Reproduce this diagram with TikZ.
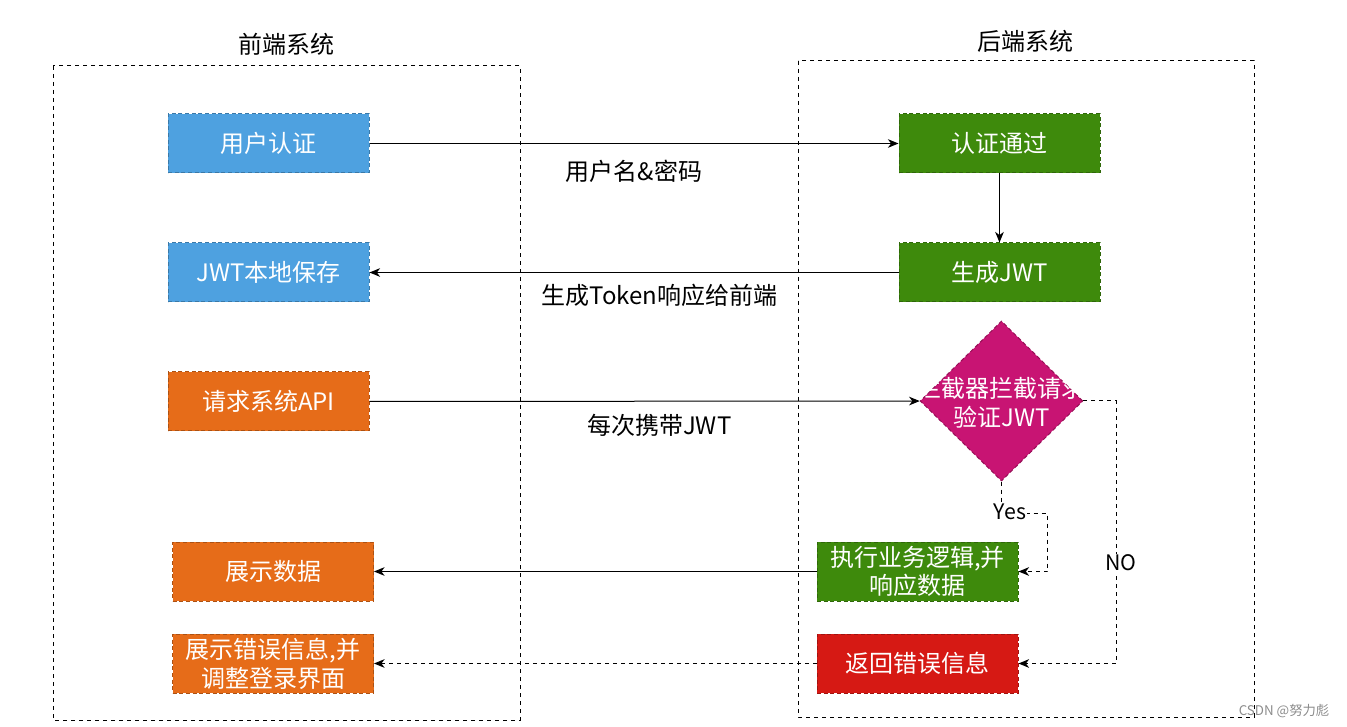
\documentclass[tikz,border=0pt]{standalone}
\usepackage{fontspec}
\setmainfont{Noto Sans CJK SC}
\usetikzlibrary{arrows.meta,shapes.geometric}
\definecolor{Blue}{RGB}{78,161,224}
\definecolor{Orange}{RGB}{230,108,25}
\definecolor{Green}{RGB}{62,138,12}
\definecolor{Red}{RGB}{214,25,20}
\definecolor{Magenta}{RGB}{200,20,115}

\begin{document}
\begin{tikzpicture}[x=0.75pt,y=-0.75pt,line width=0.75pt,
 b/.style={draw=#1!75!black,dash pattern=on 3pt off 2pt,fill=#1,text=white,minimum width=150.75pt,minimum height=44.25pt,inner sep=1pt,align=center,font=\fontsize{18}{21.5}\selectfont},
 d/.style={diamond,draw=Magenta!75!black,dash pattern=on 3pt off 2pt,fill=Magenta,minimum width=122pt,minimum height=120pt,inner sep=0pt},
 t/.style={font=\fontsize{18}{21.5}\selectfont},
 a/.style={-{Stealth[length=8pt,width=6.5pt,inset=2.5pt]}},
 dsh/.style={dash pattern=on 3pt off 3pt}]
\useasboundingbox (0,0) rectangle (1347,727);
% frames
\draw[dsh] (53,66) rectangle (520,720);
\draw[dsh] (798,61) rectangle (1254,717);
\node[t] (front) at (286,44) {前端系统};
\node[t] (backend) at (1025,41) {后端系统};
% front end
\node[b=Blue] (auth) at (268.5,143.5) {用户认证};
\node[b=Blue] (save) at (268.5,272.5) {JWT本地保存};
\node[b=Orange] (req) at (268.5,401.5) {请求系统API};
\node[b=Orange] (show) at (273,571.5) {展示数据};
\node[b=Orange] (fail) at (273,663.5) {展示错误信息,并\\调整登录界面};
% back end
\node[b=Green] (pass) at (999.5,143.5) {认证通过};
\node[b=Green] (gen) at (999.5,272.5) {生成JWT};
\node[d] (check) at (1001.5,401) {};
\node[t,text=white,align=center] (checktxt) at (1001.5,403) {拦截器拦截请求\\验证JWT};
\node[b=Green] (exec) at (917.5,571.5) {执行业务逻辑,并\\响应数据};
\node[b=Red] (back) at (917.5,663.5) {返回错误信息};
% connectors
\draw[a] (auth) -- (pass) node[t,midway,yshift=-21pt] {用户名\&密码};
\draw[a] (pass) -- (gen);
\draw[a] (gen) -- (save) node[t,midway,xshift=19pt,yshift=-17pt] {生成Token响应给前端};
\draw[a] (req) -- (check) node[t,midway,xshift=11pt,yshift=-18pt] {每次携带JWT};
\draw[a,dsh] (check.south) -- ++(0,32) -- ++(46,0) |- (exec.east);
\node[fill=white,inner sep=1pt,font=\fontsize{16}{18}\selectfont] (yes) at (1010,512) {Yes};
\draw[a,dsh] (check.east) -- ++(33,0) |- (back.east);
\node[fill=white,inner sep=1pt,font=\fontsize{16}{18}\selectfont] (no) at (1121,563) {NO};
\draw[a] (exec) -- (show);
\draw[a,dsh] (back) -- (fail);
\node[text=black!45,font=\fontsize{10}{12}\selectfont] (mark) at (1284,711) {CSDN @努力彪};
\end{tikzpicture}
\end{document}
